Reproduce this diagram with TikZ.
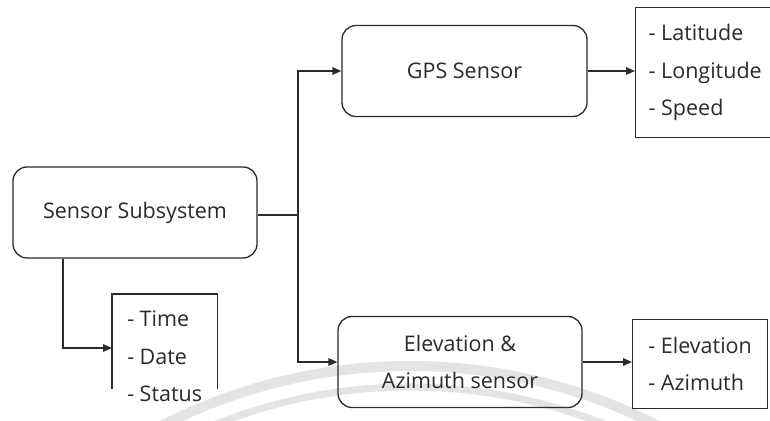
\documentclass[tikz,border=0pt]{standalone}
\usepackage{fontspec}
\setmainfont{Open Sans}
\usetikzlibrary{arrows.meta,calc}
\definecolor{ink}{HTML}{2B2B2B}
\definecolor{wmark}{HTML}{E4E4E4}
\begin{document}
\begin{tikzpicture}[x=1pt,y=-1pt,
  every node/.style={text=ink, font=\fontsize{21.5}{37.5}\selectfont},
  rbox/.style={draw=ink, line width=1.3pt, rounded corners=14pt, align=center,
    minimum width=#1, minimum height=91pt, inner sep=0pt},
  lbox/.style={draw=ink, line width=1.3pt, align=left, inner xsep=13pt,
    inner ysep=0pt, anchor=north west},
  wire/.style={draw=ink, line width=1.3pt},
  arr/.style={wire, -{Triangle[length=9pt,width=7.5pt]}},
  wm/.style={draw=wmark, line width=#1}]
\clip (0,0) rectangle (770,420);
\fill[white] (0,0) rectangle (770,420);

% faint circular seal behind the chart
\draw[wm=10pt] (410,910) circle[radius=544];
\draw[wm=7pt] (410,910) circle[radius=523];

% main blocks
\node[rbox=244pt] (sub) at (135,212.5) {Sensor Subsystem};
\node[rbox=245pt] (gps) at (464.5,71) {GPS Sensor};
\node[rbox=244pt] (ele) at (460,362) {Elevation \&\\Azimuth sensor};

% output lists
\node[lbox, minimum width=133pt, minimum height=130pt] (gl) at (635,7)
  {- Latitude\\- Longitude\\- Speed};
\node[lbox, minimum width=135pt, minimum height=89pt] (el) at (632,319)
  {- Elevation\\- Azimuth};
\node[align=left, anchor=north west, inner xsep=12pt, inner ysep=0pt,
  minimum width=105pt, minimum height=125pt] (tl) at (112,294)
  {- Time\\- Date\\- Status};
\draw[wire] ([yshift=30pt]tl.south west) |- (tl.north east) -- ([yshift=30pt]tl.south east);

% connectors
\coordinate (j) at (298,215);
\draw[wire] (sub.east |- j) -- (j);
\draw[arr] (j) |- (gps.west);
\draw[arr] (j) |- (ele.west);
\draw[arr] (gps.east) -- (gps.east -| gl.west);
\draw[arr] (ele.east) -- (ele.east -| el.west);
\draw[arr] (sub.south -| 63,0) |- ($(tl.north west)+(0,54)$);
\end{tikzpicture}
\end{document}
